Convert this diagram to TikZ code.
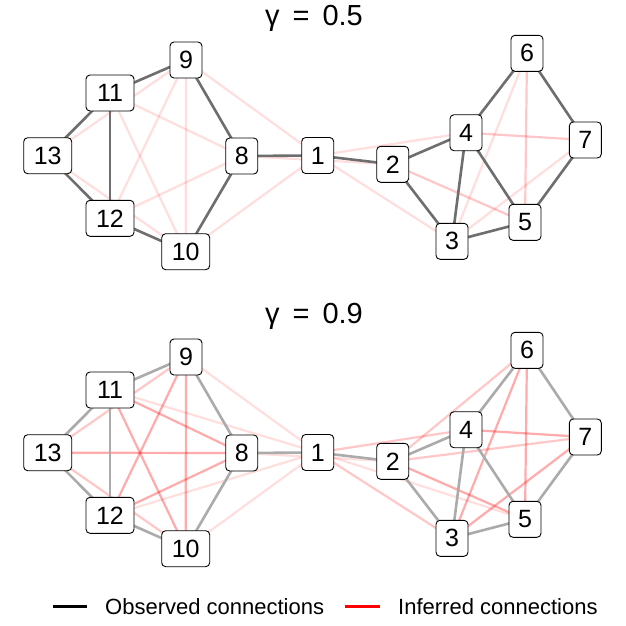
\documentclass[tikz,border=0pt]{standalone}
\usepackage{fontspec}
\setmainfont{Liberation Sans}
\pgfdeclarelayer{bg}
\pgfsetlayers{bg,main}
\tikzset{
  nd/.style={draw=black, line width=0.9pt, fill=white, rounded corners=4pt,
    minimum width=32pt, minimum height=36pt, inner sep=0pt,
    font=\fontsize{25}{25}\selectfont},
  wide/.style={minimum width=48pt},
  obsA/.style={draw=black!57, line width=2.6pt},
  obsB/.style={draw=black!33, line width=2.6pt},
  infL/.style={draw=red, draw opacity=0.13, line width=2.2pt},
  infM/.style={draw=red, draw opacity=0.22, line width=2.2pt},
  infS/.style={draw=red, draw opacity=0.33, line width=2.2pt},
  ttl/.style={font=\fontsize{29}{29}\selectfont},
  lgd/.style={font=\fontsize{22}{22}\selectfont, anchor=west, inner sep=0pt},
}
\newcommand\mkgraph[2]{%
  \node[nd] (#1-1) at (317.7,155.5+#2) {1};
  \node[nd] (#1-2) at (392.7,164.3+#2) {2};
  \node[nd] (#1-3) at (452,241.3+#2) {3};
  \node[nd] (#1-4) at (466,132.7+#2) {4};
  \node[nd] (#1-5) at (525,222.3+#2) {5};
  \node[nd] (#1-6) at (527,53.3+#2) {6};
  \node[nd] (#1-7) at (585.3,140+#2) {7};
  \node[nd] (#1-8) at (241.7,156+#2) {8};
  \node[nd] (#1-9) at (186,60+#2) {9};
  \node[nd,wide] (#1-10) at (185.7,251.7+#2) {10};
  \node[nd,wide] (#1-11) at (110,93+#2) {11};
  \node[nd,wide] (#1-12) at (110,218.3+#2) {12};
  \node[nd,wide] (#1-13) at (47.7,155.7+#2) {13};
}
\begin{document}
\begin{tikzpicture}[x=1pt,y=-1pt]
\useasboundingbox (0,0) rectangle (626,625);
% titles
\node[ttl] (title1) at (314,18) {γ\hspace{13pt}=\hspace{13pt}0.5};
\node[ttl] (title2) at (314,316) {γ\hspace{13pt}=\hspace{13pt}0.9};
% graphs
\mkgraph{t}{0}
\mkgraph{b}{297}
\begin{pgfonlayer}{bg}
  \fill[white] (0,0) rectangle (626,625);
  % top: inferred
  \foreach \a/\b in {13/9,11/8,11/10,9/12,9/10,9/1,12/8,13/10,10/1,8/2,1/4,1/3,6/3,7/3}
    \draw[infL] (t-\a.center) -- (t-\b.center);
  \foreach \a/\b in {6/5,4/7,2/5}
    \draw[infM] (t-\a.center) -- (t-\b.center);
  % bottom: inferred
  \foreach \a/\b in {11/1,12/1,9/1,10/1,1/5,8/2}
    \draw[infL] (b-\a.center) -- (b-\b.center);
  \foreach \a/\b in {13/9,13/10,2/6,2/7,1/4,1/3}
    \draw[infM] (b-\a.center) -- (b-\b.center);
  \foreach \a/\b in {11/8,12/8,9/12,11/10,9/10,13/8,4/7,6/5,6/3,7/3,2/5}
    \draw[infS] (b-\a.center) -- (b-\b.center);
  % observed
  \foreach \a/\b in {9/11,9/8,11/13,11/12,13/12,12/10,10/8,8/1,1/2,2/4,2/3,4/3,4/6,4/5,6/7,7/5,3/5}{
    \draw[obsA] (t-\a.center) -- (t-\b.center);
    \draw[obsB] (b-\a.center) -- (b-\b.center);
  }
\end{pgfonlayer}
% legend
\coordinate (la) at (53,606.5);
\coordinate (lb) at (87,606.5);
\coordinate (lc) at (345,606.5);
\coordinate (ld) at (380,606.5);
\draw[black, line width=2.8pt] (la) -- (lb);
\draw[red, line width=2.8pt] (lc) -- (ld);
\node[lgd] (lt1) at (105,606.5) {Observed connections};
\node[lgd] (lt2) at (398,606.5) {Inferred connections};
\end{tikzpicture}
\end{document}
